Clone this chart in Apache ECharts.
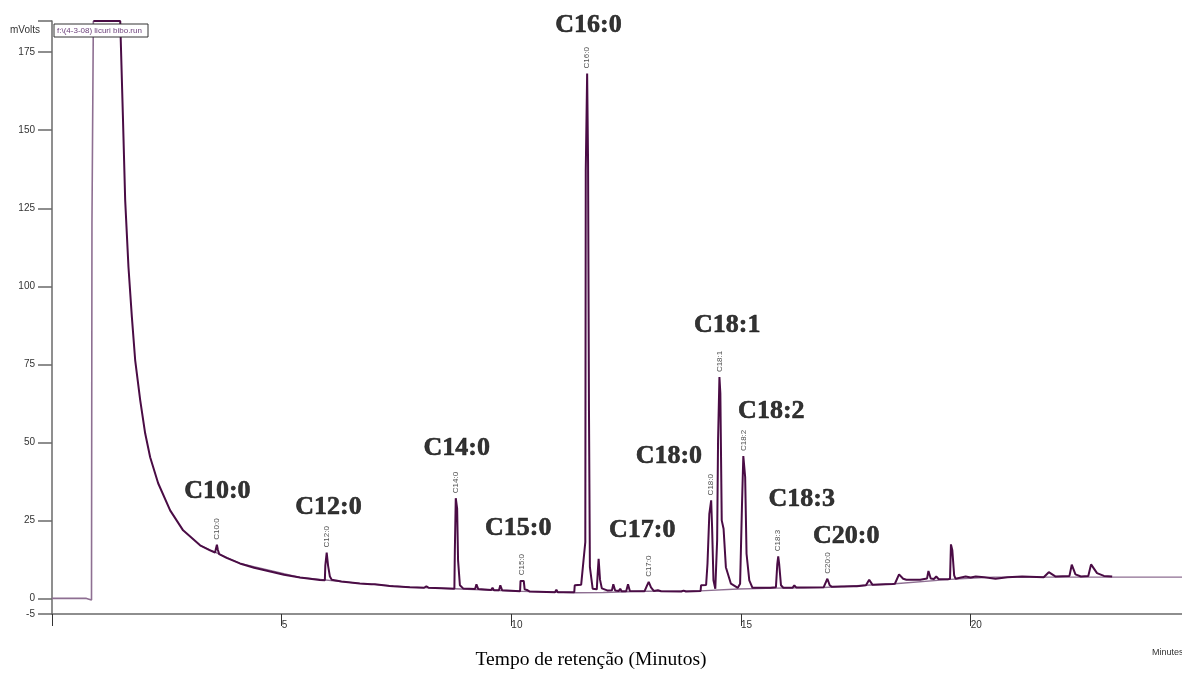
<!DOCTYPE html>
<html>
<head>
<meta charset="utf-8">
<script src="https://cdn.jsdelivr.net/npm/echarts@6/dist/echarts.min.js"></script>
<style>html,body{margin:0;padding:0;background:#fff;}#c{width:1182px;height:679px;}</style>
</head>
<body>
<div id="c"></div>
<script>
// ---- data (retention time in minutes, detector signal in mVolts) ----
const peakNames = ['C10:0','C12:0','C14:0','C15:0','C16:0','C17:0','C18:0','C18:1','C18:2','C18:3','C20:0'];
const peakTimes = [3.59, 5.98, 8.79, 10.23, 11.65, 12.99, 14.35, 14.53, 15.05, 15.81, 16.88];
const peakHeights = [17.2, 14.7, 32.1, 5.8, 168.2, 5.3, 31.4, 70.9, 45.6, 13.5, 6.3];
const labelTimes = [3.60, 6.02, 8.81, 10.15, 11.68, 12.85, 13.43, 14.70, 15.66, 16.32, 17.29];
const labelLevels = [34.3, 29.2, 48.2, 22.4, 183.7, 21.9, 45.5, 87.5, 59.8, 31.6, 19.8];
const xTicks = [0, 5, 10, 15, 20];
const xTickLabels = [5, 10, 15, 20];
const yTicks = [-5, 0, 25, 50, 75, 100, 125, 150, 175, 185];
const yTickLabels = [-5, 0, 25, 50, 75, 100, 125, 150, 175];

const frontTrace = [[0,0],[0.75,0],[0.78,-0.4],[0.86,-0.5],[0.87,120],[0.90,185]];
const baselineTrace = [[3.22,17.0],[4.09,11.2],[5.40,6.7],[6.70,4.8],[7.79,3.6],[8.76,3.1],[9.60,2.6],[10.19,2.3],[11.0,2.0],[11.37,1.8],[12.0,1.9],[12.90,2.3],[14.12,2.4],[14.93,3.0],[15.76,3.3],[16.80,3.5],[17.72,4.2],[18.35,4.7],[19.55,6.1],[20.50,6.8],[24.6,6.8]];
const signalTrace = [
[0.90,185],[1.485,185],[1.543,154.8],[1.593,127.6],[1.665,106.1],[1.739,90.1],[1.811,76.3],[1.920,63.5],[2.028,52.9],[2.137,45.2],[2.311,36.9],[2.572,28.2],[2.854,21.8],[3.224,17.0],[3.44,15.4],[3.55,14.7],[3.57,16.0],[3.59,17.2],[3.61,15.6],[3.64,14.2],[3.80,13.0],[4.09,11.2],[4.40,9.8],[4.75,8.6],[5.05,7.6],[5.40,6.7],[5.83,5.9],[5.94,5.8],[5.95,10.5],[5.98,14.7],[6.01,10.5],[6.05,7.0],[6.09,6.0],[6.30,5.4],[6.70,4.8],[6.95,4.5],[6.99,4.9],[7.03,4.5],[7.35,4.0],[7.39,4.3],[7.43,3.9],[7.79,3.6],[8.10,3.4],[8.15,3.9],[8.20,3.4],[8.76,3.1],[8.77,15.4],[8.79,32.1],[8.80,31.5],[8.82,28.8],[8.84,12.2],[8.88,4.2],[8.95,3.2],[9.21,3.0],[9.24,4.5],[9.28,3.0],[9.56,2.7],[9.59,3.4],[9.62,2.6],[9.73,2.6],[9.76,4.2],[9.80,2.6],[10.19,2.3],[10.20,5.6],[10.23,5.8],[10.27,5.6],[10.29,2.9],[10.34,2.7],[10.40,2.2],[10.95,2.0],[10.98,2.8],[11.01,2.0],[11.37,2.0],[11.38,4.2],[11.52,4.4],[11.57,12],[11.61,18],[11.62,137],[11.65,168.2],[11.67,140],[11.69,60],[11.71,10],[11.77,3.1],[11.86,2.9],[11.88,8],[11.90,12.7],[11.93,6],[11.97,3.2],[12.10,2.5],[12.19,2.6],[12.22,4.5],[12.26,2.5],[12.34,2.4],[12.37,3.1],[12.40,2.3],[12.50,2.3],[12.54,4.5],[12.58,2.4],[12.90,2.3],[12.95,4.0],[12.99,5.3],[13.04,3.5],[13.10,2.4],[13.19,2.6],[13.22,3.2],[13.26,2.3],[13.70,2.2],[13.75,2.5],[13.80,2.2],[14.12,2.4],[14.13,4.2],[14.24,4.3],[14.27,11.1],[14.31,27.1],[14.35,31.4],[14.37,22.9],[14.40,5.8],[14.44,3.1],[14.48,18.6],[14.50,50.6],[14.53,70.9],[14.55,65.6],[14.58,25],[14.62,22.3],[14.67,10],[14.78,4.7],[14.93,3.4],[14.98,4.7],[15.02,29.3],[15.05,45.6],[15.09,38.9],[15.12,14.3],[15.18,5.8],[15.25,3.4],[15.58,3.4],[15.61,3.9],[15.64,3.4],[15.76,3.6],[15.79,11.1],[15.81,13.5],[15.83,11.1],[15.87,4.2],[15.92,3.4],[16.12,3.4],[16.16,4.2],[16.20,3.5],[16.27,3.5],[16.30,4.0],[16.34,3.5],[16.80,3.6],[16.83,4.2],[16.88,6.3],[16.93,4.2],[16.98,3.7],[17.18,3.8],[17.21,4.4],[17.25,3.8],[17.45,3.9],[17.48,4.3],[17.52,3.9],[17.72,4.2],[17.79,6.0],[17.86,4.4],[18.30,4.6],[18.35,4.7],[18.44,7.7],[18.53,6.3],[18.60,6.0],[18.90,6.0],[19.05,6.4],[19.08,8.8],[19.13,6.4],[19.20,6.2],[19.25,7.0],[19.30,6.2],[19.50,6.1],[19.55,6.3],[19.57,17.3],[19.60,15.4],[19.64,7.4],[19.67,6.3],[19.89,7.0],[20.00,6.7],[20.11,7.0],[20.30,6.8],[20.54,6.3],[20.80,6.8],[21.12,7.0],[21.59,6.8],[21.70,8.4],[21.85,7.0],[22.15,7.2],[22.20,10.8],[22.28,7.7],[22.40,7.0],[22.56,7.2],[22.62,10.9],[22.75,8.1],[22.90,7.2],[23.08,7.0]
];

// ---- chart ----
const DARK = '#4a0c45';
const LIGHT = '#8e6f92';
const AXIS = '#6a6a6a';
const chart = echarts.init(document.getElementById('c'), null, {renderer: 'canvas'});

const bigLabelData = peakNames.map((n, i) => ({name: n, value: [labelTimes[i], labelLevels[i]]}));
const smallLabelData = peakNames.map((n, i) => ({name: n, value: [peakTimes[i], peakHeights[i]]}));

chart.setOption({
  animation: false,
  grid: {left: 52, right: 0, top: 21, bottom: 65, containLabel: false},
  xAxis: {
    type: 'value', min: 0, max: 24.6,
    axisLine: {show: true, onZero: false, lineStyle: {color: AXIS, width: 1.5}},
    axisTick: {show: true, inside: false, length: 12, customValues: xTicks, lineStyle: {color: '#333', width: 1}},
    axisLabel: {show: true, customValues: xTickLabels, align: 'left', margin: 6, fontSize: 10, color: '#333', fontFamily: 'Liberation Sans, Arial'},
    splitLine: {show: false}
  },
  yAxis: {
    type: 'value', min: -5, max: 185,
    axisLine: {show: true, onZero: false, lineStyle: {color: AXIS, width: 1.5}},
    axisTick: {show: true, inside: false, length: 14, customValues: yTicks, lineStyle: {color: AXIS, width: 1.5}},
    axisLabel: {show: true, customValues: yTickLabels, margin: 17, fontSize: 10, color: '#333', fontFamily: 'Liberation Sans, Arial'},
    splitLine: {show: false}
  },
  series: [
    {type: 'line', data: frontTrace, showSymbol: false, symbol: 'none', lineStyle: {color: LIGHT, width: 1.6}, z: 2},
    {type: 'line', data: baselineTrace, showSymbol: false, symbol: 'none', lineStyle: {color: LIGHT, width: 1.4}, z: 2},
    {type: 'line', data: signalTrace, showSymbol: false, symbol: 'none', lineStyle: {color: DARK, width: 2}, z: 3},
    {type: 'scatter', data: smallLabelData, symbolSize: 0, silent: true, z: 4,
      label: {show: true, position: 'top', distance: 5, rotate: 90, align: 'left', verticalAlign: 'middle',
        formatter: p => p.name, fontSize: 8, color: '#222', fontFamily: 'Liberation Sans, Arial'}},
    {type: 'scatter', data: bigLabelData, symbolSize: 0, silent: true, z: 5,
      label: {show: true, position: 'inside', formatter: p => p.name, fontSize: 26, fontWeight: 'bold',
        color: '#000', textBorderColor: '#000', textBorderWidth: 0.6,
        fontFamily: 'Liberation Serif, serif'}}
  ],
  graphic: [
    {type: 'text', left: 10, top: 25, z: 10, style: {text: 'mVolts', fontSize: 10, fill: '#333', fontFamily: 'Liberation Sans, Arial'}},
    {type: 'rect', z: 10, shape: {x: 54, y: 24, width: 94, height: 13}, style: {fill: '#fff', stroke: '#333', lineWidth: 1}},
    {type: 'text', z: 11, x: 57, y: 30.5, style: {text: 'f:\\(4-3-08) licuri bibo.run', fontSize: 8, fill: '#6b3f7a', verticalAlign: 'middle', fontFamily: 'Liberation Sans, Arial'}},
    {type: 'text', z: 10, x: 591, y: 660, style: {text: 'Tempo de retenção (Minutos)', fontSize: 19.5, fill: '#000', align: 'center', verticalAlign: 'middle', fontFamily: 'Liberation Serif, serif'}},
    {type: 'text', z: 10, x: 1152, y: 653, style: {text: 'Minutes', fontSize: 9, fill: '#333', verticalAlign: 'middle', fontFamily: 'Liberation Sans, Arial'}}
  ]
});
</script>
</body>
</html>
